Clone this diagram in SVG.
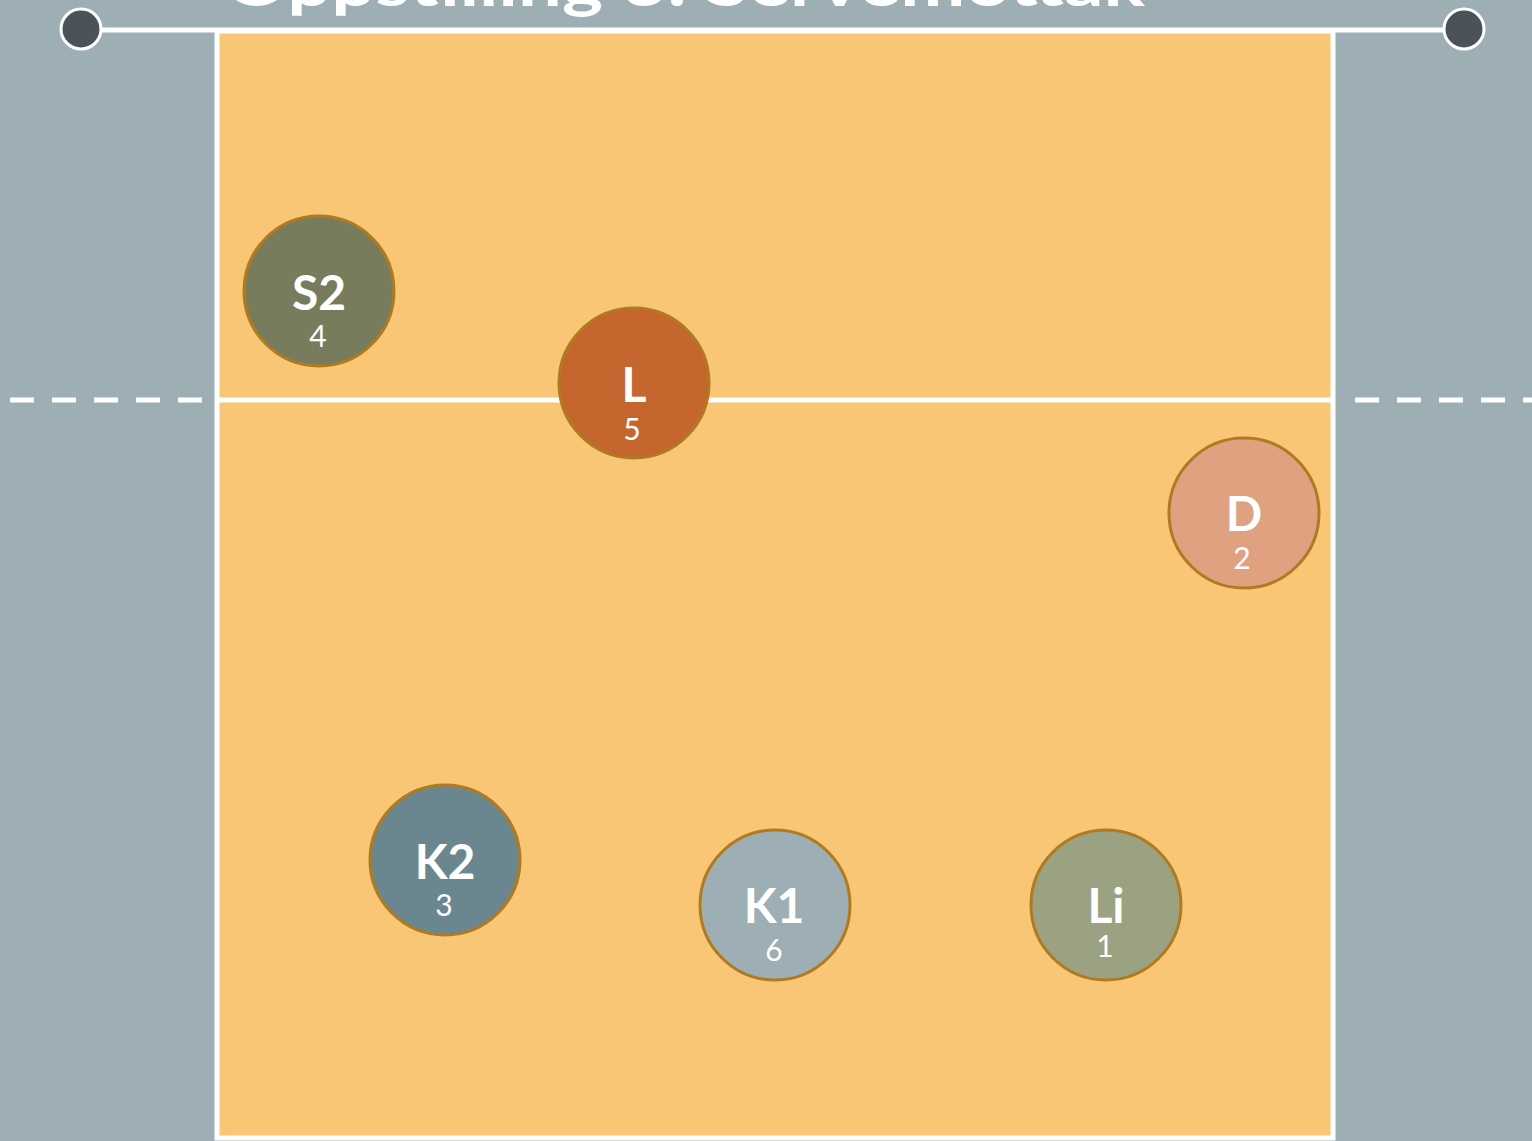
<svg xmlns="http://www.w3.org/2000/svg" width="1532" height="1141" viewBox="0 0 1532 1141">
  <defs>
    <style>
      .player { stroke: #B07A1E; stroke-width: 3; }
      .lbl { font-family: Lato, "Open Sans", "Liberation Sans", sans-serif; font-weight: 700; font-size: 48px; fill: #FFFFFF; text-anchor: middle; }
      .num { font-family: Lato, "Open Sans", "Liberation Sans", sans-serif; font-weight: 400; font-size: 30px; fill: #FFFFFF; text-anchor: middle; }
      .title { font-family: Lato, "Open Sans", "Liberation Sans", sans-serif; font-weight: 700; font-size: 62px; fill: #FFFFFF; }
      .line { stroke: #FFFFFF; stroke-width: 5; fill: none; }
      .courtfill { fill: #F8C675; stroke: #FFFFFF; stroke-width: 5; }
      .dash { stroke: #FFFFFF; stroke-width: 5; stroke-dasharray: 24 18; fill: none; }
      .post { fill: #4A5357; stroke: #FFFFFF; stroke-width: 3; }
    </style>
  </defs>
  <rect x="0" y="0" width="1532" height="1141" fill="#9DAFB4"/>
  <text class="title" x="225" y="6" textLength="920" lengthAdjust="spacingAndGlyphs">Oppstilling 3: Servemottak</text>
  <g id="court">
    <rect class="courtfill" x="217" y="31" width="1116" height="1107"/>
    <line class="line" x1="217" y1="400" x2="1333" y2="400"/>
  </g>
  <g id="net">
    <line class="line" x1="81" y1="30" x2="1464" y2="30"/>
    <circle class="post" cx="81" cy="29" r="20"/>
    <circle class="post" cx="1464" cy="29" r="20"/>
  </g>
  <g id="attack-lines">
    <line class="dash" x1="10" y1="400" x2="210" y2="400"/>
    <line class="dash" x1="1355" y1="400" x2="1532" y2="400"/>
  </g>
  <g id="connectors"></g>
  <g id="S2">
    <circle class="player" cx="319" cy="291" r="75" fill="#777D5C"/>
    <text class="lbl" x="319" y="310">S2</text>
    <text class="num" x="318" y="347">4</text>
  </g>
  <g id="L">
    <circle class="player" cx="634" cy="383" r="75" fill="#C6662F"/>
    <text class="lbl" x="634" y="402">L</text>
    <text class="num" x="632" y="440">5</text>
  </g>
  <g id="D">
    <circle class="player" cx="1244" cy="513" r="75" fill="#E0A181"/>
    <text class="lbl" x="1244" y="531">D</text>
    <text class="num" x="1242" y="569">2</text>
  </g>
  <g id="K2">
    <circle class="player" cx="445" cy="860" r="75" fill="#6A8790"/>
    <text class="lbl" x="445" y="879">K2</text>
    <text class="num" x="444" y="916">3</text>
  </g>
  <g id="K1">
    <circle class="player" cx="775" cy="905" r="75" fill="#9DAFB4"/>
    <text class="lbl" x="774" y="923">K1</text>
    <text class="num" x="774" y="961">6</text>
  </g>
  <g id="Li">
    <circle class="player" cx="1106" cy="905" r="75" fill="#9BA281"/>
    <text class="lbl" x="1106" y="923">Li</text>
    <text class="num" x="1105" y="957">1</text>
  </g>
</svg>
